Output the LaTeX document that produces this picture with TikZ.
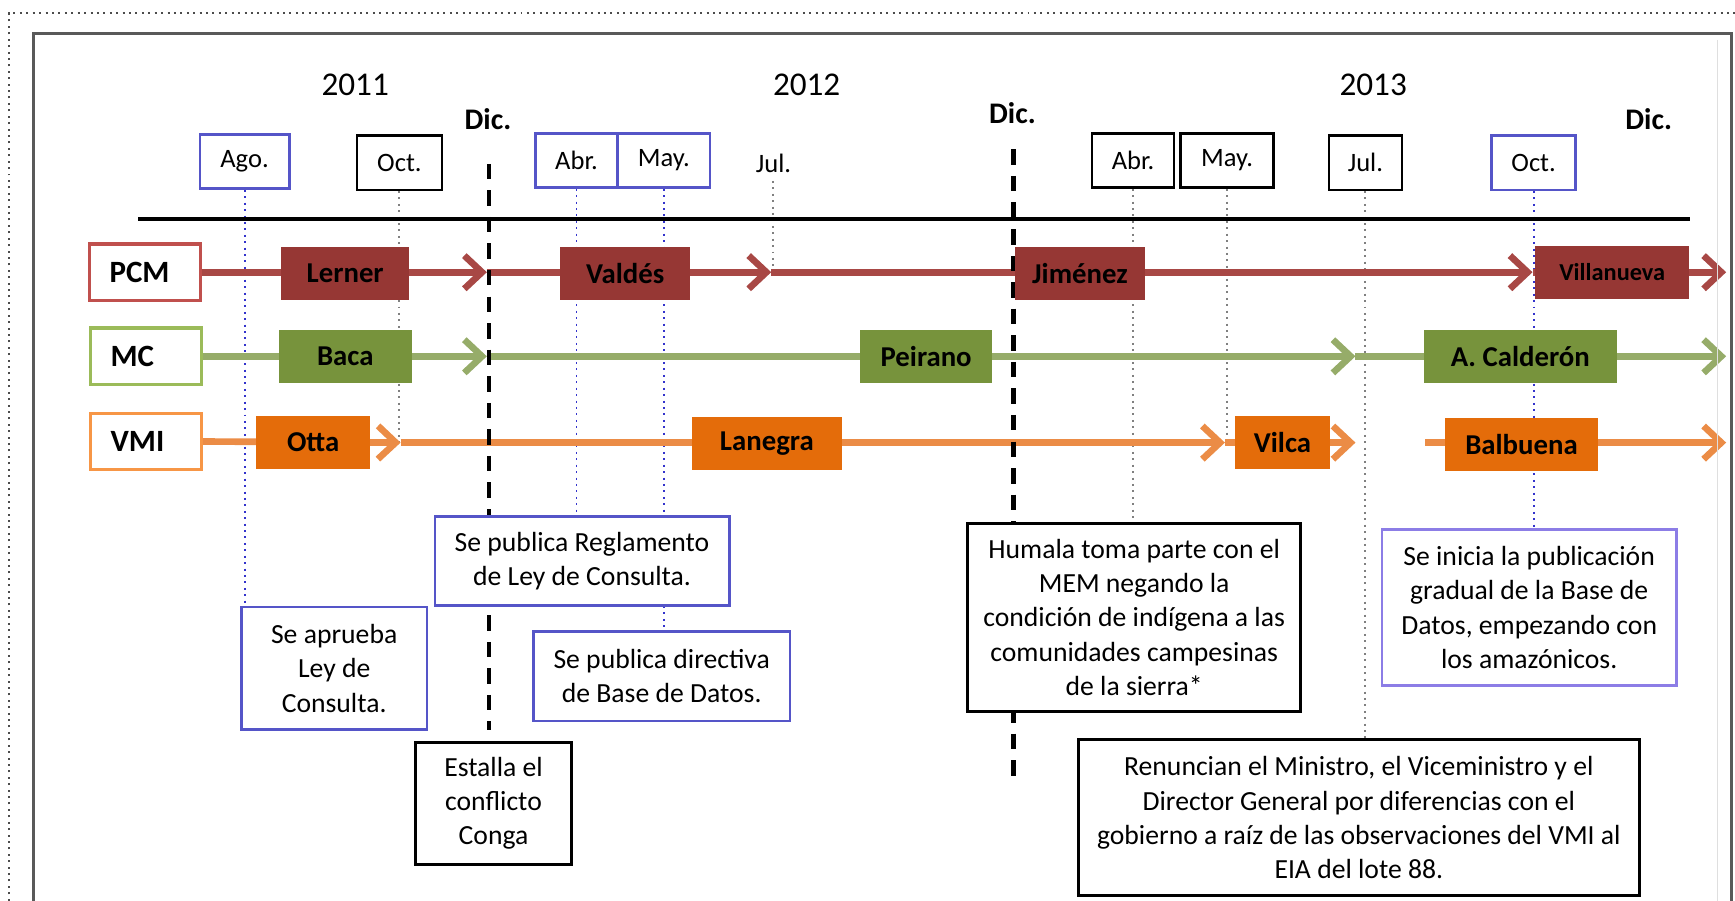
\documentclass[tikz,border=0pt]{standalone}
\usepackage{fontspec}
\setmainfont{Carlito}
\usetikzlibrary{arrows.meta,backgrounds}

\definecolor{pcmfill}{RGB}{150,55,52}
\definecolor{pcmline}{RGB}{168,72,69}
\definecolor{pcmedge}{RGB}{192,80,77}
\definecolor{mcfill}{RGB}{119,147,60}
\definecolor{mcline}{RGB}{150,172,105}
\definecolor{mcedge}{RGB}{155,187,89}
\definecolor{vmifill}{RGB}{228,108,10}
\definecolor{vmiline}{RGB}{235,140,70}
\definecolor{vmiedge}{RGB}{247,150,70}
\definecolor{evblue}{RGB}{85,85,200}
\definecolor{evlilac}{RGB}{140,125,230}

\begin{document}
\begin{tikzpicture}[x=0.5pt,y=-0.5pt,
  year/.style={font=\fontsize{15}{17}\selectfont},
  dic/.style={font=\bfseries\fontsize{13.5}{16}\selectfont},
  month/.style={draw, line width=1.1pt, fill=white, minimum height=24.5pt, inner sep=0pt, font=\fontsize{12}{14}\selectfont},
  guide/.style={dotted, line width=0.9pt, gray},
  dicline/.style={line width=2pt, dash pattern=on 7pt off 5pt},
  rowlabel/.style={draw, line width=1.5pt, fill=white, minimum height=25.5pt, text width=32pt, inner xsep=9pt, align=left, font=\bfseries\fontsize{14}{16}\selectfont},
  person/.style={minimum height=24pt, inner sep=0pt, font=\bfseries\fontsize{13}{15}\selectfont},
  row/.style={line width=3pt, -{Straight Barb[length=8pt,width=15pt]}},
  event/.style={draw, line width=1.2pt, fill=white, align=center, inner sep=0pt, font=\fontsize{12.5}{15.5}\selectfont}
]
  \useasboundingbox (0,0) rectangle (1568,814);

  % frames
  \draw[dotted, line width=0.9pt, gray!60!black] (8,814) -- (8,12) -- (1568,12);
  \draw[line width=1.5pt, gray!70!black] (30,814) -- (30,30) -- (1565,30) -- (1565,814);
  \draw[gray!25] (1552,36) -- (1552,814);

  % years and months
  \node[year] (y2011) at (321,77) {2011};
  \node[year] (y2012) at (729,77) {2012};
  \node[year] (y2013) at (1241,77) {2013};
  \node[dic] (dicA) at (441,108) {Dic.};
  \node[dic] (dicB) at (915,102) {Dic.};
  \node[dic] (dicC) at (1490,108) {Dic.};

  \node[month, draw=evblue, minimum width=40.5pt] (ago) at (221,146) {Ago.};
  \node[month, minimum width=38.5pt] (octA) at (361,147) {Oct.};
  \node[month, draw=evblue, minimum width=37pt] (abrA) at (521,145) {Abr.};
  \node[month, draw=evblue, minimum width=41.5pt] (mayA) at (600,145) {May.};
  \node[font=\fontsize{12}{14}\selectfont] (julA) at (699,148) {Jul.};
  \node[month, minimum width=37pt] (abrB) at (1024,145) {Abr.};
  \node[month, minimum width=42pt] (mayB) at (1109,145) {May.};
  \node[month, minimum width=33pt] (julB) at (1234,147) {Jul.};
  \node[month, draw=evblue, minimum width=38pt] (octB) at (1386,147) {Oct.};

  \draw[line width=2pt] (125,198) -- (1527,198);

  % row labels
  \node[rowlabel, draw=pcmedge] (pcm) at (131,246) {PCM};
  \node[rowlabel, draw=mcedge] (mc) at (132,322) {MC};
  \node[rowlabel, draw=vmiedge] (vmi) at (132,399) {VMI};

  % people
  \node[person, fill=pcmfill, minimum width=58pt] (lerner) at (312,247) {Lerner};
  \node[person, fill=pcmfill, minimum width=58.5pt] (valdes) at (565,247) {Valdés};
  \node[person, fill=pcmfill, minimum width=59pt] (jimenez) at (976,247) {Jiménez};
  \node[person, fill=pcmfill, minimum width=69.5pt, font=\bfseries\fontsize{11}{13}\selectfont] (villanueva) at (1457,246) {Villanueva};
  \node[person, fill=mcfill, minimum width=60pt] (baca) at (312,322) {Baca};
  \node[person, fill=mcfill, minimum width=59.5pt] (peirano) at (837,322) {Peirano};
  \node[person, fill=mcfill, minimum width=87pt] (calderon) at (1374,322) {A. Calderón};
  \node[person, fill=vmifill, minimum width=51.5pt] (otta) at (283,400) {Otta};
  \node[person, fill=vmifill, minimum width=68pt] (lanegra) at (693,401) {Lanegra};
  \node[person, fill=vmifill, minimum width=43pt] (vilca) at (1159,400) {Vilca};
  \node[person, fill=vmifill, minimum width=69pt] (balbuena) at (1375,402) {Balbuena};

  % events
  \node[event, draw=evblue, minimum width=84pt, minimum height=55.5pt] (aprueba) at (302,604) {Se aprueba\\Ley de\\Consulta.};
  \node[event, minimum width=70.5pt, minimum height=55pt] (estalla) at (446,726) {Estalla el\\conflicto\\Conga};
  \node[event, draw=evblue, minimum width=133pt, minimum height=40pt] (reglamento) at (526,507) {Se publica Reglamento\\de Ley de Consulta.};
  \node[event, draw=evblue, minimum width=116pt, minimum height=40.5pt] (directiva) at (598,611) {Se publica directiva\\de Base de Datos.};
  \node[event, minimum width=150.5pt, minimum height=85pt] (humala) at (1025,558) {Humala toma parte con el\\MEM negando la\\condición de indígena a las\\comunidades campesinas\\de la sierra*};
  \node[event, minimum width=253.5pt, minimum height=70.5pt] (renuncian) at (1228,739) {Renuncian el Ministro, el Viceministro y el\\Director General por diferencias con el\\gobierno a raíz de las observaciones del VMI al\\EIA del lote 88.};
  \node[event, draw=evlilac, minimum width=133pt, minimum height=70.5pt] (inicia) at (1382,549) {Se inicia la publicación\\gradual de la Base de\\Datos, empezando con\\los amazónicos.};

  \begin{pgfonlayer}{background}
  % guides
  \draw[guide, blue!60!gray] (ago.south) -- (ago.south |- aprueba.north);
  \draw[guide] (octA.south) -- (octA.south |- vmi);
  \draw[guide, blue!60!gray] (abrA.south) -- (abrA.south |- reglamento.north);
  \draw[guide, blue!60!gray] (mayA.south) -- (mayA.south |- directiva.north);
  \draw[guide] (julA.south) -- (julA.south |- pcm);
  \draw[guide] (abrB.south) -- (abrB.south |- humala.north);
  \draw[guide] (mayB.south) -- (mayB.south |- vmi);
  \draw[guide] (julB.south) -- (julB.south |- renuncian.north);
  \draw[guide, blue!60!gray] (octB.south) -- (octB.south |- inicia.north);

  % rows
  \coordinate (p1) at (440,246);
  \coordinate (p2) at (697,246);
  \coordinate (p3) at (1385,246);
  \coordinate (p4) at (1560,246);
  \draw[row, pcmline] (pcm.east) -- (p1);
  \draw[row, pcmline] (p1) -- (p2);
  \draw[row, pcmline] (p2) -- (p3);
  \draw[row, pcmline] (p3) -- (p4);

  \coordinate (m1) at (440,322);
  \coordinate (m2) at (1225,322);
  \coordinate (m3) at (1560,322);
  \draw[row, mcline] (mc.east) -- (m1);
  \draw[row, mcline] (m1) -- (m2);
  \draw[row, mcline] (m2) -- (m3);

  \coordinate (v1) at (362,400);
  \coordinate (v2) at (1107,400);
  \coordinate (v3) at (1225,400);
  \coordinate (v4) at (1288,400);
  \coordinate (v5) at (1560,400);
  \draw[row, vmiline] (vmi.east) -- (v1);
  \draw[row, vmiline] (v1) -- (v2);
  \draw[row, vmiline] (v2) -- (v3);
  \draw[row, vmiline] (v4) -- (v5);

  % dic lines
  \coordinate (dicAtop) at (442,148);
  \coordinate (dicAbot) at (442,660);
  \coordinate (dicBtop) at (916,135);
  \coordinate (dicBbot) at (916,705);
  \draw[dicline] (dicAtop) -- (dicAbot);
  \draw[dicline] (dicBtop) -- (dicBbot);
  \end{pgfonlayer}
\end{tikzpicture}
\end{document}
